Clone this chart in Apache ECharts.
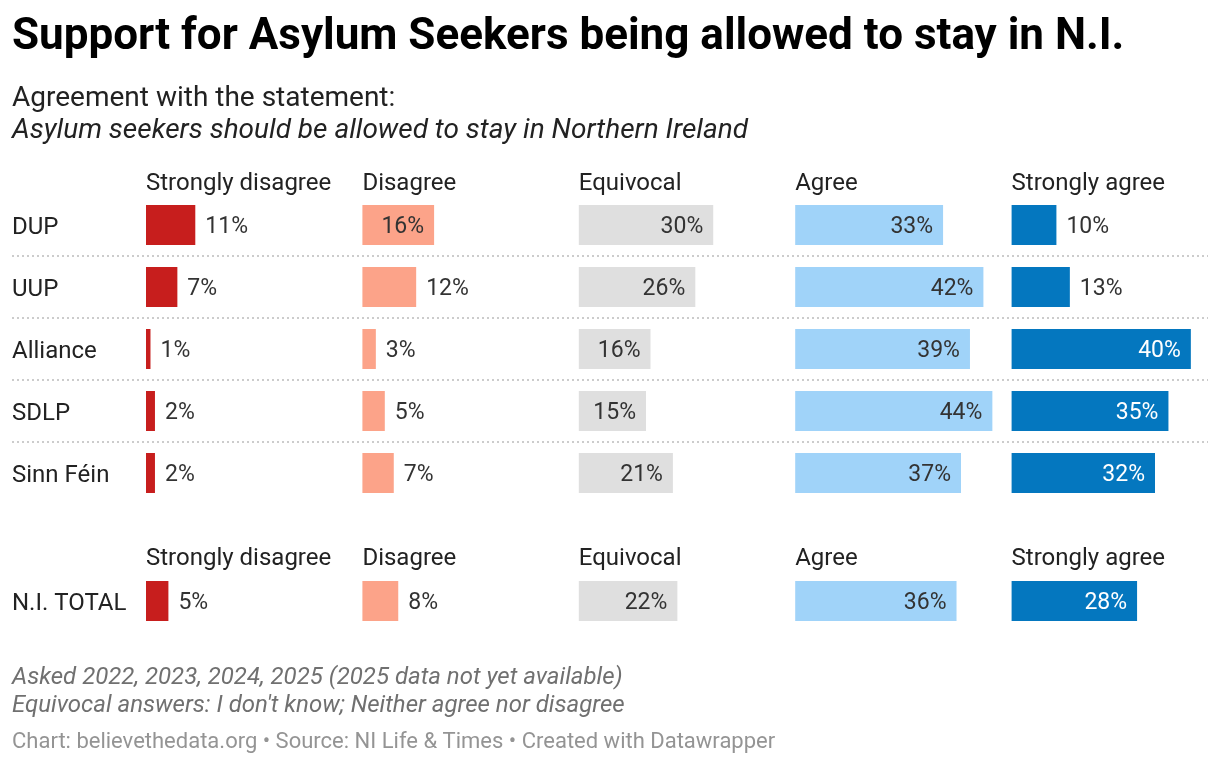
<!DOCTYPE html>
<html>
<head>
<meta charset="utf-8">
<script src="https://cdn.jsdelivr.net/npm/echarts@6/dist/echarts.min.js"></script>
<style>
  html, body { margin: 0; padding: 0; background: #fff; }
  #chart { width: 1220px; height: 764px; }
</style>
</head>
<body>
<div id="chart"></div>
<script>
// data
const parties = ['DUP', 'UUP', 'Alliance', 'SDLP', 'Sinn Féin'];
const answers = ['Strongly disagree', 'Disagree', 'Equivocal', 'Agree', 'Strongly agree'];
const strongDisagree = [11, 7, 1, 2, 2];
const disagree = [16, 12, 3, 5, 7];
const equivocal = [30, 26, 16, 15, 21];
const agree = [33, 42, 39, 44, 37];
const strongAgree = [10, 13, 40, 35, 32];
const totalRow = ['N.I. TOTAL'];
const niTotal = [5, 8, 22, 36, 28];

const partySeries = [strongDisagree, disagree, equivocal, agree, strongAgree];
const colors = ['#c71e1d', '#fca389', '#dfdfdf', '#a0d3f9', '#0477bf'];
const onDark = [false, false, false, false, true];

const FONT = 'Roboto';
const colLeft0 = 146, colStep = 216.4, colWidth = 203, axisMax = 45.3;
const rowH = 62, barH = 40;
const blockTop = [194, 570];

function cells(values, k) {
  return values.map(v => {
    const inside = v >= 15;
    return {
      value: v,
      label: {
        position: inside ? 'insideRight' : 'right',
        color: inside && onDark[k] ? '#ffffff' : '#333333'
      }
    };
  });
}

const grid = [], xAxis = [], yAxis = [], series = [];
const blocks = [
  { rows: parties, values: k => partySeries[k] },
  { rows: totalRow, values: k => [niTotal[k]] }
];

blocks.forEach((b, bi) => {
  for (let k = 0; k < answers.length; k++) {
    const idx = grid.length;
    grid.push({
      left: colLeft0 + k * colStep,
      top: blockTop[bi],
      width: colWidth,
      height: rowH * b.rows.length,
      containLabel: false
    });
    xAxis.push({ type: 'value', gridIndex: idx, min: 0, max: axisMax, show: false });
    yAxis.push({
      type: 'category',
      gridIndex: idx,
      data: b.rows,
      inverse: true,
      axisLine: { show: false },
      axisTick: { show: false },
      splitLine: { show: false },
      axisLabel: {
        show: k === 0,
        align: 'left',
        margin: 134,
        formatter: v => '{r|' + v + '}',
        rich: {
          r: { padding: [6, 0, 0, 0], fontFamily: FONT, fontSize: 24, color: '#222222' }
        },
        fontFamily: FONT,
        fontSize: 24,
        color: '#222222'
      }
    });
    series.push({
      type: 'bar',
      xAxisIndex: idx,
      yAxisIndex: idx,
      data: cells(b.values(k), k),
      barWidth: barH,
      itemStyle: { color: colors[k] },
      silent: true,
      label: {
        show: true,
        formatter: p => p.value + '%',
        distance: 10,
        offset: [0, 2],
        fontFamily: FONT,
        fontSize: 23
      }
    });
  }
});

const graphic = [];
function text(x, y, str, size, opts) {
  graphic.push({
    type: 'text',
    x: x,
    y: y,
    silent: true,
    style: Object.assign({
      text: str,
      fontFamily: FONT,
      fontSize: size,
      fill: '#222222',
      verticalAlign: 'middle'
    }, opts || {})
  });
}

text(12, 38, 'Support for Asylum Seekers being allowed to stay in N.I.', 44, { fontWeight: 'bold', fill: '#000000' });
text(12, 99, 'Agreement with the statement:', 28);
text(12, 131, 'Asylum seekers should be allowed to stay in Northern Ireland', 28, { fontStyle: 'italic' });

// column headers above each block
const headerY = [184, 559];
headerY.forEach(y => {
  answers.forEach((a, k) => text(colLeft0 + k * colStep, y, a, 24));
});

// dotted separators between party rows
for (let r = 1; r < parties.length; r++) {
  const y = blockTop[0] + r * rowH;
  graphic.push({
    type: 'line',
    silent: true,
    shape: { x1: 12, y1: y, x2: 1208, y2: y },
    style: { stroke: '#cccccc', lineWidth: 2, lineDash: [2, 3] }
  });
}

text(12, 678, 'Asked 2022, 2023, 2024, 2025 (2025 data not yet available)', 24, { fontStyle: 'italic', fill: '#707070' });
text(12, 706, "Equivocal answers: I don't know; Neither agree nor disagree", 24, { fontStyle: 'italic', fill: '#707070' });
text(12, 742, 'Chart: believethedata.org • Source: NI Life & Times • Created with Datawrapper', 22, { fill: '#949494' });

const chart = echarts.init(document.getElementById('chart'));
chart.setOption({
  animation: false,
  backgroundColor: '#ffffff',
  textStyle: { fontFamily: FONT },
  grid, xAxis, yAxis, series, graphic
});
</script>
</body>
</html>
